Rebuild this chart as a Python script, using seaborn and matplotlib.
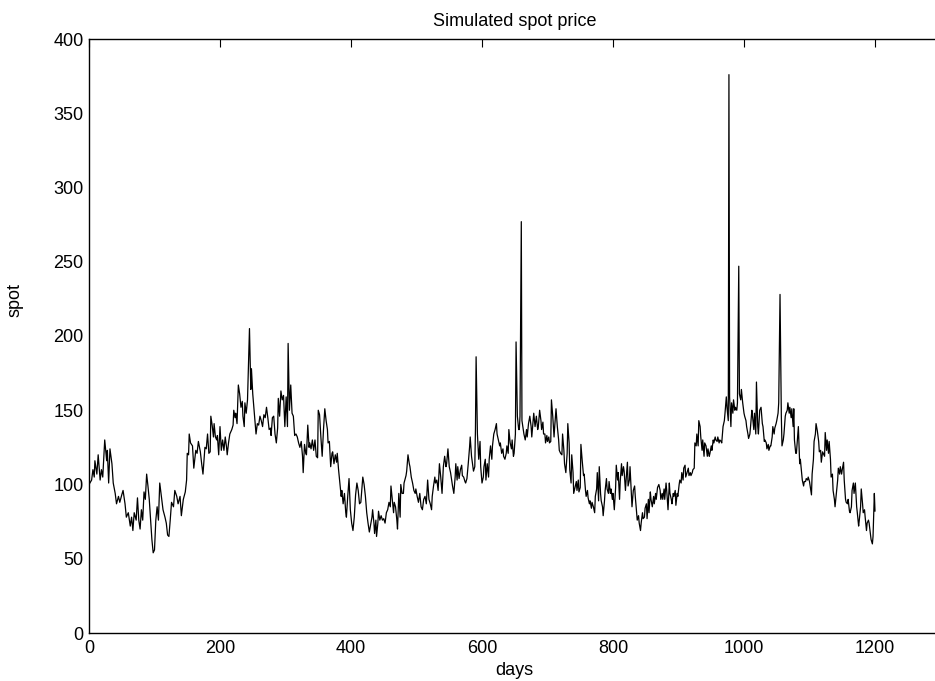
"""
Simulated spot price series, redrawn in a MATLAB-like style.
"""

import pandas as pd
import matplotlib
matplotlib.use("Agg")
import matplotlib.pyplot as plt
import seaborn as sns

# values (day, spot)
days = [
    0, 4, 6, 8, 9, 12, 14, 17, 19, 21,
    24, 27, 28, 30, 32, 35, 37, 40, 42, 45,
    47, 50, 52, 55, 57, 60, 63, 65, 67, 69,
    72, 74, 76, 78, 80, 82, 84, 86, 88, 90,
    92, 94, 96, 98, 100, 102, 104, 106, 108, 111,
    113, 116, 118, 120, 122, 124, 126, 129, 131, 134,
    136, 139, 141, 144, 147, 149, 150, 152, 153, 155,
    158, 160, 163, 165, 167,
    170, 172, 174, 177, 179, 181, 183, 185, 186, 188,
    190, 191, 193, 195, 196, 198, 200, 202, 204, 206,
    208, 210, 211, 213, 215, 218, 220, 221, 223, 224,
    226, 228, 230, 232, 234, 235, 237, 238, 240, 242,
    245, 247, 248, 250, 252, 255, 257, 259, 261, 263,
    265, 267, 269, 271, 273, 275, 277, 278, 280, 282,
    284, 286, 288, 289, 291, 293, 295, 297, 299, 301,
    303, 304, 306, 308, 310, 312, 314, 316, 318, 320,
    322, 324, 326, 327, 329, 331, 332, 334, 336, 337,
    339, 341, 343,
    345, 347, 349, 350, 352, 354, 356, 358, 360, 362,
    364, 365, 367, 369, 371, 372, 374, 376, 378, 379,
    381, 383, 385, 386, 388, 390, 392, 393, 395, 397,
    399, 401, 403, 405, 407, 409, 411, 413, 415, 416,
    418, 420, 422, 424, 426, 428, 430, 432, 433, 435,
    436, 438, 439, 441, 442, 444, 446, 448, 450, 452,
    454, 456, 458, 460, 461, 463, 465, 466, 468, 470,
    471, 473, 475, 476, 478, 480, 481, 484, 485, 487,
    489, 490, 492, 494, 496, 498, 499, 501, 503, 505,
    507, 509, 511, 513, 515, 517, 519,
    521, 523, 524, 526, 528, 529, 531, 533, 535, 537,
    539, 541, 543, 545, 546, 548, 550, 552, 553, 555,
    557, 559, 560, 562, 563, 565, 567, 569, 570, 572,
    574, 575, 577, 579, 581, 582, 584, 586, 587, 589,
    590, 591, 593, 595, 597, 598, 600, 602, 603, 605,
    606, 608, 610, 611, 613, 615, 616, 618, 620, 622,
    623, 625, 627, 628, 630, 632, 633, 635, 637, 638,
    640, 641, 643, 645, 646, 648, 649, 651, 652, 654,
    656, 657, 658, 660, 661, 663, 664, 666, 668, 669,
    671, 673, 675, 676, 678, 679, 681, 683, 685, 686,
    688, 690, 691, 693, 694,
    696, 697, 699, 700, 702, 703, 705, 706, 708, 710,
    711, 713, 715, 717, 718, 720, 722, 723, 725, 726,
    728, 730, 731, 733, 734, 736, 737, 739, 740, 742,
    744, 745, 747, 748, 750, 751, 753, 755, 756, 758,
    759, 761, 762, 764, 765, 767, 768, 770, 772, 773,
    775, 776, 778, 779, 781, 782, 784, 785, 787, 788,
    790, 791, 793, 794, 796, 797, 799, 800, 802, 804,
    805, 807, 808, 810, 811, 813, 814, 816, 817, 819,
    820, 822, 823, 825, 826, 828, 829, 831, 833, 834,
    836, 837, 839, 840, 842, 843, 845, 846, 848, 849,
    851, 852, 854, 855, 857, 858, 860, 862, 863, 865,
    866, 868, 870,
    872, 873, 875, 876, 878, 879, 881, 882, 884, 886,
    887, 889, 890, 892, 893, 895, 896, 898, 899, 901,
    902, 904, 905, 907, 908, 910, 911, 913, 915, 916,
    918, 919, 921, 922, 924, 925, 927, 928, 930, 931,
    933, 934, 936, 937, 939, 940, 942, 944, 945, 947,
    948, 950, 951, 953, 954, 956, 957, 959, 960, 962,
    963, 965, 966, 968, 970, 971, 973, 974, 976, 977,
    978, 980, 981, 983, 984, 986, 987, 989, 990, 992,
    993, 995, 996, 998, 1000, 1001, 1003, 1004, 1006, 1007,
    1009, 1010, 1012, 1013, 1015, 1016, 1018, 1019, 1021, 1022,
    1024, 1026, 1028, 1029, 1031, 1032, 1034, 1035, 1037, 1038,
    1040, 1041, 1043, 1044, 1046, 1047, 1049, 1050, 1052, 1053,
    1055, 1057, 1058, 1060, 1061, 1063, 1064, 1066, 1067, 1069,
    1070, 1072, 1073, 1075, 1076, 1077, 1079, 1080, 1083, 1085,
    1086, 1088, 1089, 1091, 1092, 1094, 1095, 1097, 1098, 1100,
    1101, 1103, 1104, 1106, 1107, 1109, 1110, 1112, 1114, 1115,
    1117, 1118, 1120, 1121, 1123, 1124, 1126, 1127, 1129, 1130,
    1132, 1133, 1135, 1136, 1138, 1139, 1141, 1143, 1144, 1146,
    1147, 1149, 1150, 1152, 1153, 1155, 1156, 1158, 1159, 1161,
    1162, 1164, 1165, 1167, 1168, 1170, 1172, 1173, 1175, 1176,
    1178, 1179, 1181, 1182, 1184, 1185, 1187, 1188, 1190, 1191,
    1193, 1194, 1196, 1197, 1198, 1199, 1200,
]

spot = [
    100, 103, 110, 105, 116, 107, 120, 103, 110, 105,
    130, 116, 123, 101, 124, 114, 101, 94, 87, 92,
    88, 93, 96, 87, 78, 81, 72, 78, 69, 81,
    76, 91, 76, 70, 83, 76, 95, 90, 107, 99,
    90, 76, 63, 54, 56, 76, 85, 76, 101, 90,
    83, 78, 74, 66, 65, 76, 88, 85, 96, 92,
    87, 92, 79, 90, 95, 103, 121, 120, 134, 128,
    126, 111, 123, 121, 129,
    122, 114, 107, 125, 124, 134, 121, 122, 146, 140,
    132, 141, 132, 130, 133, 120, 139, 123, 130, 123,
    132, 125, 120, 128, 134, 137, 140, 150, 145, 148,
    141, 167, 161, 152, 156, 146, 139, 155, 148, 157,
    205, 164, 178, 161, 150, 134, 141, 140, 146, 143,
    139, 147, 145, 152, 145, 137, 138, 133, 145, 146,
    134, 128, 138, 158, 146, 163, 157, 160, 139, 159,
    139, 195, 150, 167, 148, 146, 133, 134, 132, 128,
    125, 129, 119, 108, 127, 121, 120, 140, 125, 128,
    124, 130, 123,
    130, 119, 118, 150, 147, 132, 119, 137, 151, 143,
    137, 128, 129, 112, 121, 122, 114, 120, 115, 121,
    110, 101, 92, 96, 87, 94, 81, 78, 92, 104,
    83, 74, 69, 78, 93, 101, 96, 87, 88, 94,
    105, 100, 92, 81, 74, 68, 73, 78, 83, 74,
    67, 76, 65, 74, 82, 76, 79, 76, 77, 74,
    81, 83, 88, 85, 99, 90, 81, 88, 85, 76,
    70, 94, 78, 100, 94, 94, 101, 106, 109, 120,
    114, 112, 105, 101, 96, 94, 97, 92, 88, 94,
    85, 83, 90, 92, 87, 103, 90,
    87, 83, 92, 99, 105, 101, 103, 96, 114, 105,
    94, 112, 119, 112, 114, 124, 112, 108, 105, 99,
    94, 105, 114, 103, 112, 104, 110, 113, 106, 105,
    102, 101, 104, 114, 125, 132, 119, 112, 109, 112,
    137, 186, 134, 117, 129, 112, 101, 105, 112, 117,
    103, 114, 105, 117, 126, 117, 126, 134, 137, 141,
    134, 130, 126, 128, 121, 124, 119, 117, 121, 126,
    121, 137, 128, 124, 130, 119, 121, 134, 196, 146,
    137, 137, 146, 277, 143, 137, 134, 130, 137, 132,
    141, 146, 139, 132, 143, 148, 139, 146, 137, 139,
    150, 143, 137, 142, 134,
    134, 128, 133, 129, 132, 128, 129, 157, 146, 132,
    139, 151, 139, 130, 123, 121, 120, 134, 123, 114,
    108, 121, 141, 128, 110, 101, 120, 108, 94, 98,
    102, 96, 103, 95, 98, 127, 116, 106, 107, 96,
    92, 96, 91, 87, 89, 84, 88, 85, 81, 92,
    97, 108, 89, 112, 94, 89, 85, 79, 89, 96,
    104, 97, 94, 102, 94, 97, 90, 94, 83, 98,
    113, 103, 108, 90, 102, 114, 106, 112, 109, 96,
    103, 115, 99, 103, 112, 94, 85, 96, 99, 92,
    81, 76, 79, 74, 69, 74, 81, 77, 78, 84,
    87, 77, 90, 81, 95, 90, 85, 92, 87, 94,
    90, 98, 100,
    96, 90, 94, 90, 97, 90, 101, 96, 83, 101,
    94, 90, 87, 94, 92, 96, 86, 94, 92, 100,
    103, 101, 108, 103, 111, 113, 105, 108, 111, 106,
    108, 106, 108, 110, 111, 128, 126, 134, 126, 143,
    139, 132, 123, 130, 119, 128, 126, 119, 124, 119,
    121, 126, 123, 130, 128, 132, 130, 129, 132, 128,
    130, 129, 128, 139, 143, 148, 159, 152, 143, 376,
    159, 139, 155, 148, 157, 150, 152, 150, 155, 247,
    161, 157, 164, 155, 148, 146, 143, 139, 134, 131,
    134, 139, 150, 146, 137, 148, 134, 169, 139, 134,
    150, 152, 141, 139, 129, 130, 128, 124, 127, 123,
    126, 126, 132, 139, 134, 138, 141, 143, 148, 155,
    228, 146, 126, 130, 134, 146, 148, 150, 155, 148,
    152, 145, 151, 139, 151, 130, 121, 121, 139, 114,
    117, 108, 103, 99, 102, 102, 104, 103, 105, 102,
    99, 93, 107, 117, 129, 134, 141, 136, 129, 122,
    123, 115, 122, 121, 119, 135, 123, 130, 121, 129,
    117, 105, 107, 96, 90, 85, 94, 103, 111, 107,
    112, 107, 110, 115, 103, 90, 88, 87, 90, 82,
    81, 85, 96, 101, 94, 101, 85, 81, 72, 76,
    85, 97, 87, 81, 83, 78, 69, 74, 76, 74,
    67, 63, 60, 65, 80, 94, 82,
]

x_ticks = [0, 200, 400, 600, 800, 1000, 1200]
y_ticks = [0, 50, 100, 150, 200, 250, 300, 350, 400]

assert len(days) == len(spot), (len(days), len(spot))
df = pd.DataFrame({"days": days, "spot": spot})

sns.set_style("white")
plt.rcParams["font.family"] = ["Liberation Sans", "DejaVu Sans"]
plt.rcParams["xtick.direction"] = "in"
plt.rcParams["ytick.direction"] = "in"
plt.rcParams["text.color"] = "black"
plt.rcParams["axes.labelcolor"] = "black"
plt.rcParams["xtick.color"] = "black"
plt.rcParams["ytick.color"] = "black"

fig = plt.figure(figsize=(9.35, 6.81), dpi=100)
# axes box runs slightly past the right edge, like the cropped original
ax = fig.add_axes([89 / 935, 48 / 681, 851.5 / 935, 594 / 681])

sns.lineplot(data=df, x="days", y="spot", color="black", linewidth=0.9,
             estimator=None, sort=False, ax=ax)

ax.set_xlim(0, 1300)
ax.set_ylim(0, 400)
ax.set_xticks(x_ticks)
ax.set_yticks(y_ticks)
ax.tick_params(axis="both", which="major", labelsize=13, length=6, width=0.8,
               colors="black", top=True, right=False, pad=5)
ax.tick_params(axis="y", pad=4)

for side in ax.spines.values():
    side.set_visible(True)
    side.set_color("black")
    side.set_linewidth(1.0)

ax.set_title("Simulated spot price", fontsize=13, pad=9, color="black")
ax.set_xlabel("days", fontsize=13)
ax.set_ylabel("spot", fontsize=13)
ax.xaxis.set_label_coords(0.5, -0.048)
ax.yaxis.set_label_coords(-0.0775, 0.561)

fig.savefig("out.png", dpi=100)
